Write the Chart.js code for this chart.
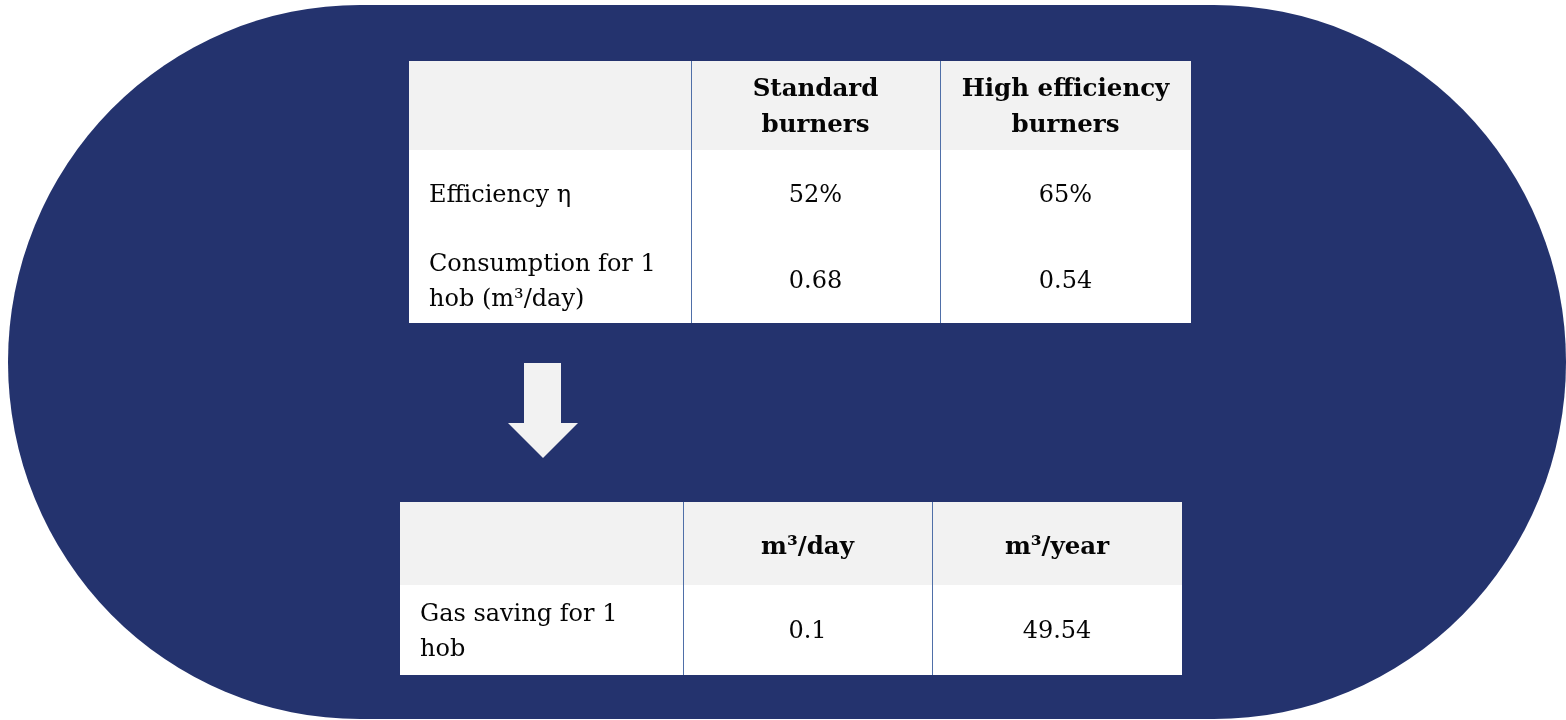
<!DOCTYPE html>
<html>
<head>
<meta charset="utf-8">
<script src="https://cdn.jsdelivr.net/npm/chart.js@4.4.1/dist/chart.umd.min.js"></script>
<style>
  html, body { margin: 0; padding: 0; background: #fff; overflow: hidden; }
  #wrap { width: 1566px; height: 720px; position: relative; }
</style>
</head>
<body>
<div id="wrap"><canvas id="board"></canvas></div>
<script>
// data
var topHeaders = ['', 'Standard\nburners', 'High efficiency\nburners'];
var topRowLabels = ['Efficiency \u03b7', 'Consumption for 1\nhob (m\u00b3/day)'];
var standardBurners = ['52%', '0.68'];
var highEfficiencyBurners = ['65%', '0.54'];

var bottomHeaders = ['', 'm\u00b3/day', 'm\u00b3/year'];
var bottomRowLabels = ['Gas saving for 1\nhob'];
var savingPerDay = ['0.1'];
var savingPerYear = ['49.54'];

var NAVY = '#24336e';
var HEAD_BG = '#f2f2f2';
var LINE = '#4f6fa8';
var TEXT = '#050505';
var BODY_FONT = '24px "DejaVu Serif", serif';
var HEAD_FONT = 'bold 24.5px "DejaVu Serif", serif';

function drawLines(ctx, text, x, cy, lh) {
    var lines = text.split('\n');
    var y0 = cy - (lines.length - 1) * lh / 2;
    lines.forEach(function (l, i) {
        ctx.fillText(l, x, y0 + i * lh);
    });
}

function drawTable(ctx, cols, rows, headers, labels, columns, headShift) {
    var left = cols[0], right = cols[cols.length - 1];
    ctx.fillStyle = HEAD_BG;
    ctx.fillRect(left, rows[0], right - left, rows[1] - rows[0]);
    ctx.fillStyle = '#ffffff';
    ctx.fillRect(left, rows[1], right - left, rows[rows.length - 1] - rows[1]);

    ctx.strokeStyle = LINE;
    ctx.lineWidth = 1;
    for (var c = 1; c < cols.length - 1; c++) {
        ctx.beginPath();
        ctx.moveTo(cols[c] + 0.5, rows[0]);
        ctx.lineTo(cols[c] + 0.5, rows[rows.length - 1]);
        ctx.stroke();
    }

    ctx.fillStyle = TEXT;
    ctx.textBaseline = 'middle';
    ctx.font = HEAD_FONT;
    ctx.textAlign = 'center';
    headers.forEach(function (h, i) {
        if (!h) return;
        drawLines(ctx, h, (cols[i] + cols[i + 1]) / 2, (rows[0] + rows[1]) / 2 + headShift, 36);
    });

    ctx.font = BODY_FONT;
    labels.forEach(function (lab, r) {
        var cy = (rows[r + 1] + rows[r + 2]) / 2 + 2;
        ctx.textAlign = 'left';
        drawLines(ctx, lab, cols[0] + 20, cy, 35);
        ctx.textAlign = 'center';
        columns.forEach(function (vals, c) {
            drawLines(ctx, vals[r], (cols[c + 1] + cols[c + 2]) / 2, cy, 35);
        });
    });
}

var infographic = {
    id: 'infographic',
    beforeDraw: function (chart) {
        var ctx = chart.ctx;
        ctx.save();
        // rounded background
        var x0 = 8, x1 = 1566, top = 5, bottom = 719;
        var ry = (bottom - top) / 2, rx = 352, cy = top + ry;
        ctx.fillStyle = NAVY;
        ctx.beginPath();
        ctx.ellipse(x0 + rx, cy, rx, ry, 0, Math.PI / 2, Math.PI * 1.5);
        ctx.lineTo(x1 - rx, top);
        ctx.ellipse(x1 - rx, cy, rx, ry, 0, -Math.PI / 2, Math.PI / 2);
        ctx.closePath();
        ctx.fill();

        drawTable(ctx, [409, 691, 940, 1191], [61, 150, 237, 323],
            topHeaders, topRowLabels, [standardBurners, highEfficiencyBurners], 2);

        // arrow
        ctx.fillStyle = HEAD_BG;
        ctx.beginPath();
        ctx.moveTo(524, 363);
        ctx.lineTo(561, 363);
        ctx.lineTo(561, 423);
        ctx.lineTo(578, 423);
        ctx.lineTo(543, 458);
        ctx.lineTo(508, 423);
        ctx.lineTo(524, 423);
        ctx.closePath();
        ctx.fill();

        drawTable(ctx, [400, 683, 932, 1182], [502, 585, 675],
            bottomHeaders, bottomRowLabels, [savingPerDay, savingPerYear], 4);
        ctx.restore();
    }
};

new Chart(document.getElementById('board').getContext('2d'), {
    type: 'scatter',
    data: { datasets: [] },
    options: {
        responsive: true,
        maintainAspectRatio: false,
        animation: false,
        layout: { padding: 0 },
        plugins: { legend: { display: false }, tooltip: { enabled: false } },
        scales: { x: { display: false }, y: { display: false } }
    },
    plugins: [infographic]
});
</script>
</body>
</html>
